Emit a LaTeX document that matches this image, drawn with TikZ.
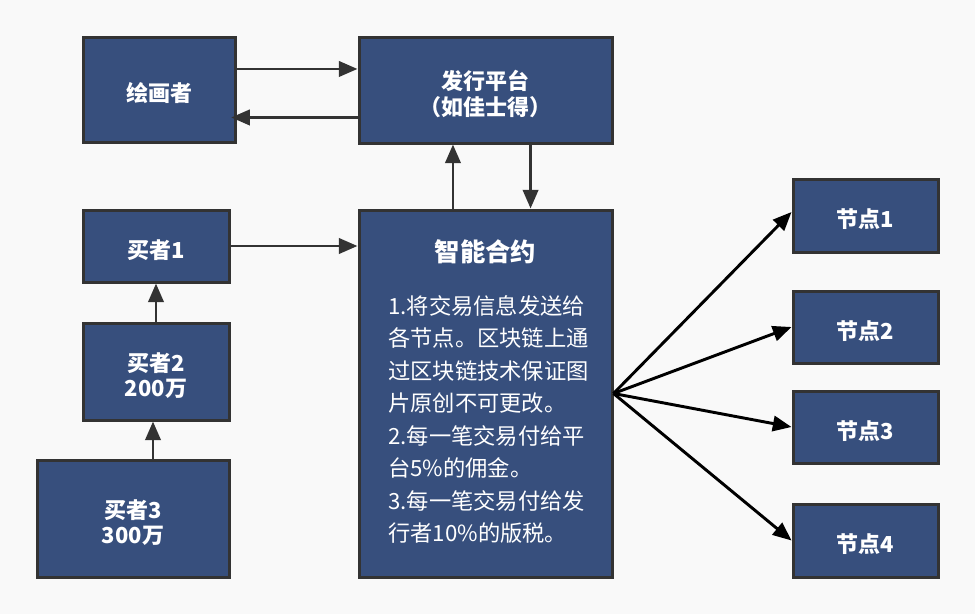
\documentclass[tikz,border=0pt]{standalone}
\usepackage{fontspec}
\setmainfont{Noto Sans CJK SC}
\usetikzlibrary{arrows.meta,calc}
\definecolor{boxfill}{HTML}{374F7D}
\definecolor{boxline}{HTML}{333333}
\definecolor{bgcol}{HTML}{F9F9F9}
\begin{document}
\begin{tikzpicture}[x=0.75pt,y=-0.75pt,
  blockbox/.style={draw=boxline,line width=2.25pt,fill=boxfill,inner sep=0pt},
  boxtext/.style={text=white,inner sep=0pt,align=center,yshift=-3pt,
    font=\fontsize{16.5pt}{19pt}\selectfont\bfseries},
  arr/.style={draw=boxline,line width=2.2pt,-{Triangle[length=14pt,width=11.5pt]}},
  fanarr/.style={draw=black,line width=2.2pt,-{Triangle[length=14pt,width=11.5pt]}}]
\fill[bgcol] (0,0) rectangle (975,614);
\useasboundingbox (0,0) rectangle (975,614);
% nodes
\node[blockbox,minimum width=152*0.75pt,minimum height=105*0.75pt,label={[boxtext]center:绘画者}] (painter) at (159,89.5) {};
\node[blockbox,minimum width=253*0.75pt,minimum height=106*0.75pt,label={[boxtext]center:{发行平台\\（如佳士得）}}] (platform) at (485.5,90) {};
\node[blockbox,minimum width=146*0.75pt,minimum height=72*0.75pt,label={[boxtext]center:买者1}] (b1) at (156,246) {};
\node[blockbox,minimum width=146*0.75pt,minimum height=97*0.75pt,label={[boxtext]center:{买者2\\200万}}] (b2) at (156,371.5) {};
\node[blockbox,minimum width=192*0.75pt,minimum height=117*0.75pt,label={[boxtext]center:{买者3\\300万}}] (b3) at (133,518.5) {};
\node[blockbox,minimum width=253*0.75pt,minimum height=367*0.75pt] (contract) at (485.5,393.5) {};
\node[text=white,font=\fontsize{19pt}{22pt}\selectfont\bfseries] (ctitle) at (485.5,252) {智能合约};
\node[text=white,anchor=west,inner sep=0pt,align=left,font=\fontsize{16.7pt}{24.4pt}\selectfont] (cbody) at (388,419.5)
  {1.将交易信息发送给\\各节点。区块链上通\\过区块链技术保证图\\片原创不可更改。\\2.每一笔交易付给平\\台5\%的佣金。\\3.每一笔交易付给发\\行者10\%的版税。};
\node[blockbox,minimum width=145*0.75pt,minimum height=73*0.75pt,label={[boxtext]center:节点1}] (n1) at (865.5,215.5) {};
\node[blockbox,minimum width=145*0.75pt,minimum height=72*0.75pt,label={[boxtext]center:节点2}] (n2) at (865.5,327) {};
\node[blockbox,minimum width=145*0.75pt,minimum height=72*0.75pt,label={[boxtext]center:节点3}] (n3) at (865.5,427) {};
\node[blockbox,minimum width=145*0.75pt,minimum height=73*0.75pt,label={[boxtext]center:节点4}] (n4) at (865.5,540.5) {};
% connectors
\draw[arr] ([yshift=15.4pt]painter.east) -- ([yshift=15.4pt]painter.east -| platform.west);
\draw[arr] ([yshift=-20.6pt]platform.west) -- ([yshift=-20.6pt,xshift=-4pt]platform.west -| painter.east);
\draw[arr] ([xshift=-24.4pt]contract.north) -- ([xshift=-24.4pt]contract.north |- platform.south);
\draw[arr] ([xshift=33.8pt]platform.south) -- ([xshift=33.8pt]platform.south |- contract.north);
\draw[arr] (b1.east) -- (b1.east -| contract.west);
\draw[arr] (b2.north) -- (b1.south);
\draw[arr] ([xshift=-2.25pt]b3.north -| b2.south) -- ([xshift=-2.25pt]b2.south);
\draw[fanarr] (contract.east) -- ([yshift=2.6pt]n1.west);
\draw[fanarr] (contract.east) -- (n2.west);
\draw[fanarr] (contract.east) -- (n3.west);
\draw[fanarr] (contract.east) -- (n4.west);
\end{tikzpicture}
\end{document}
